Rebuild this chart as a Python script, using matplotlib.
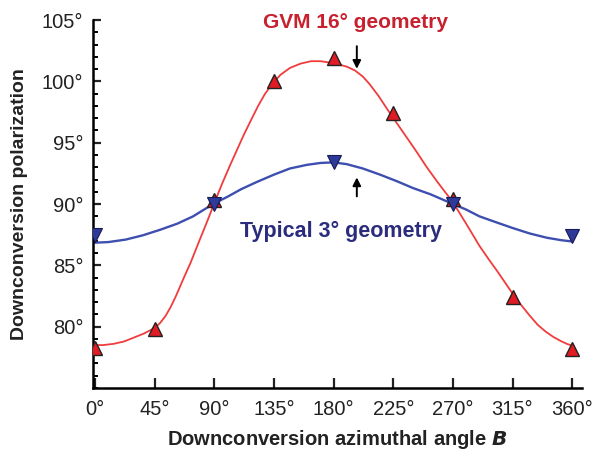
import matplotlib.pyplot as plt
from matplotlib.ticker import MultipleLocator

plt.rcParams['font.family'] = ['Liberation Sans', 'DejaVu Sans']

# measured points
angle_pts = [0, 45, 90, 135, 180, 225, 270, 315, 360]
gvm_pts = [78.3, 79.8, 90.3, 100.0, 101.9, 97.4, 90.4, 82.4, 78.2]
typ_angle = [0, 90, 180, 270, 360]
typ_pts = [87.5, 90.0, 93.4, 90.0, 87.4]

# fitted curves
gvm_fit_x = [0, 6, 14, 22, 29, 37, 45, 49, 53, 57, 61, 67, 72, 79, 85, 90, 96, 102, 107,
             112, 117, 123, 128, 134, 140, 147, 155, 163, 170, 180, 190, 196, 202, 207, 214,
             221, 228, 236, 243, 250, 258, 264, 270, 280, 290, 297, 303, 310, 315, 322, 328,
             334, 340, 346, 352, 356, 360]
gvm_fit_y = [78.5, 78.5, 78.6, 78.8, 79.1, 79.45, 79.9, 80.3, 80.85, 81.6, 82.5, 84.0, 85.2,
             87.1, 88.7, 90.1, 91.7, 93.2, 94.4, 95.6, 96.7, 98.0, 98.95, 99.85, 100.55,
             101.1, 101.45, 101.65, 101.65, 101.5, 101.2, 100.9, 100.4, 99.8, 98.8, 97.65,
             96.55, 95.3, 94.2, 93.05, 91.85, 91.0, 90.15, 88.4, 86.6, 85.5, 84.6, 83.5,
             82.7, 81.7, 80.9, 80.15, 79.6, 79.15, 78.8, 78.6, 78.45]
typ_fit_x = [0, 10, 23, 36, 49, 62, 74, 89, 100, 110, 122, 135, 147, 160, 170, 180, 190,
             202, 215, 228, 240, 253, 268, 280, 290, 303, 315, 328, 341, 352, 360]
typ_fit_y = [86.85, 86.9, 87.1, 87.45, 87.9, 88.4, 89.0, 90.0, 90.6, 91.2, 91.8, 92.4, 92.9,
             93.2, 93.35, 93.4, 93.25, 92.9, 92.4, 91.85, 91.3, 90.8, 90.1, 89.55, 89.0, 88.5,
             88.05, 87.6, 87.25, 87.05, 86.95]

xticks = [0, 45, 90, 135, 180, 225, 270, 315, 360]
yticks = [80, 85, 90, 95, 100, 105]

fig = plt.figure(figsize=(5.97, 4.57), dpi=100)
ax = fig.add_axes([0.156, 0.151, 0.819, 0.805])

ax.plot(gvm_fit_x, gvm_fit_y, color='#f03c3c', lw=1.3, zorder=2)
ax.plot(typ_fit_x, typ_fit_y, color='#3f4fb0', lw=1.7, zorder=2)
ax.plot(angle_pts, gvm_pts, ls='none', marker='^', ms=10, mfc='#e01b24', mec='#222222',
        mew=1.0, zorder=3)
ax.plot(typ_angle, typ_pts, ls='none', marker='v', ms=10, mfc='#2e3a9a', mec='#1a1a55',
        mew=0.8, zorder=4)

ax.set_xlim(-1.5, 367.5)
ax.set_ylim(75, 105)
ax.set_xticks(xticks)
ax.set_xticklabels(['{}°'.format(t) for t in xticks])
ax.set_yticks(yticks)
ax.set_yticklabels(['{}°'.format(t) for t in yticks])
ax.yaxis.set_minor_locator(MultipleLocator(1))

for s in ['top', 'right']:
    ax.spines[s].set_visible(False)
for s in ['left', 'bottom']:
    ax.spines[s].set_linewidth(1.8)
ax.tick_params(axis='both', which='major', direction='in', width=1.6, labelsize=14.5,
               colors='#222222', pad=7)
ax.tick_params(axis='y', which='major', length=6)
ax.tick_params(axis='x', which='major', length=7, pad=9)
ax.tick_params(axis='y', which='minor', direction='in', length=3.5, width=1.4)

ax.set_xlabel('Downconversion azimuthal angle $\\boldsymbol{B}$', fontsize=14.5,
              fontweight='bold', labelpad=6, color='#222222')
ax.set_ylabel('Downconversion polarization', fontsize=14, fontweight='bold', labelpad=10,
              color='#222222')

ax.text(196.5, 104.8, 'GVM 16° geometry', color='#c8202e', fontsize=15, fontweight='bold',
        ha='center', va='center')
ax.text(185.5, 87.75, 'Typical 3° geometry', color='#2b2d7c', fontsize=15.5,
        fontweight='bold', ha='center', va='center')
ax.annotate('', xy=(197.5, 100.8), xytext=(197.5, 103.1),
            arrowprops=dict(arrowstyle='-|>', color='black', lw=1.4, mutation_scale=12))
ax.annotate('', xy=(197.5, 92.4), xytext=(197.5, 90.4),
            arrowprops=dict(arrowstyle='-|>', color='black', lw=1.4, mutation_scale=12))

fig.savefig('out.png', dpi=100)
